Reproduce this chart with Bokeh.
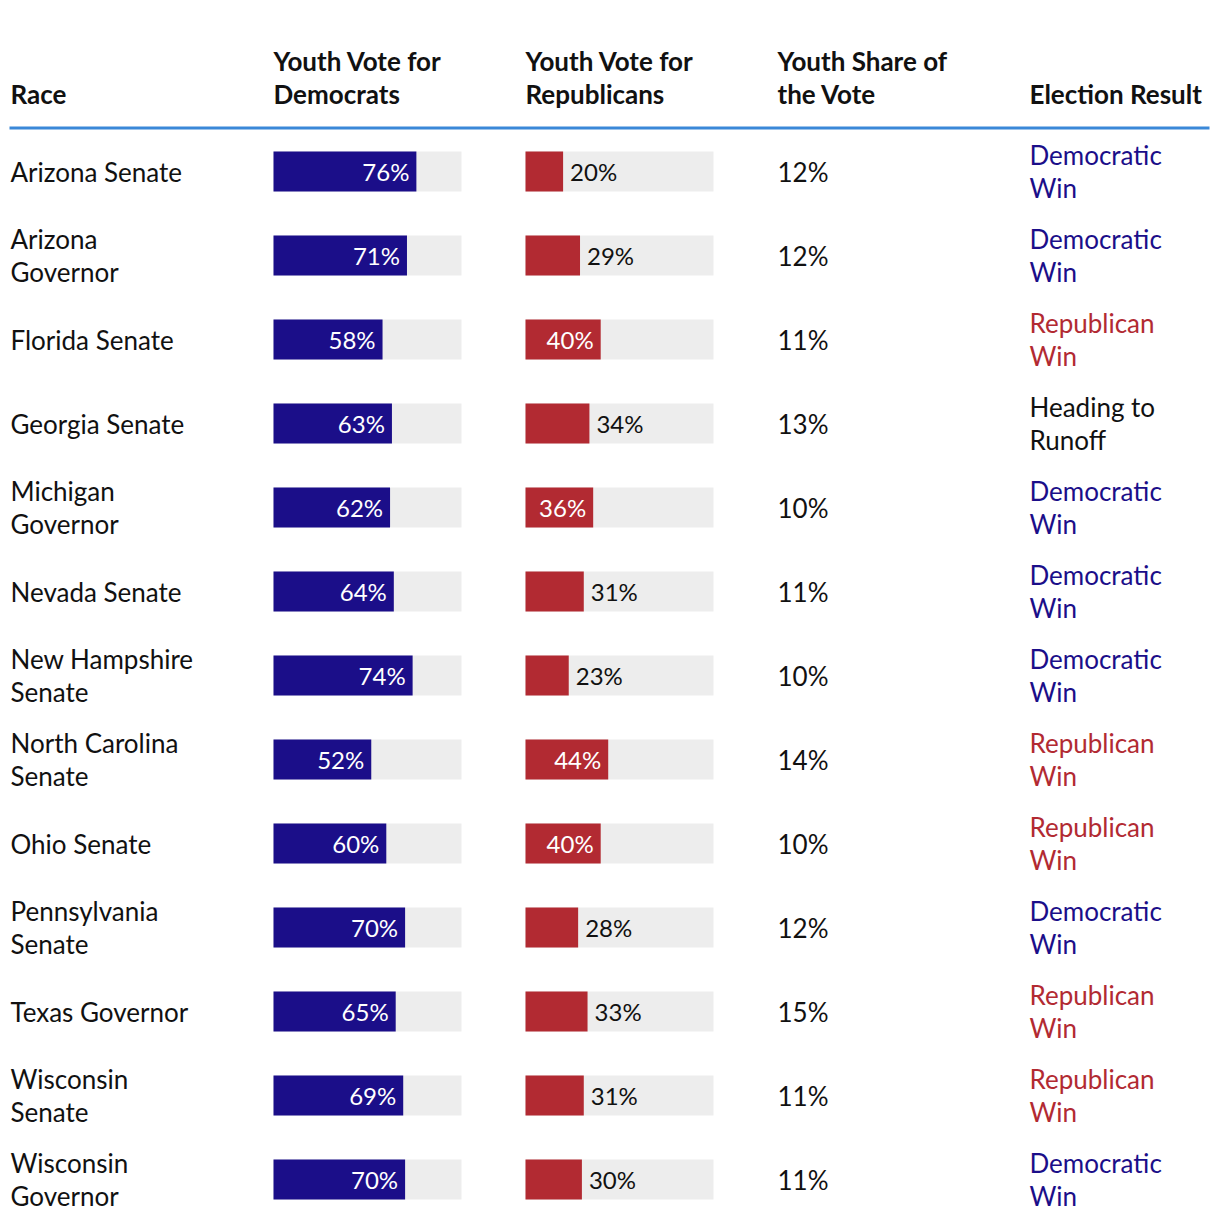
from bokeh.plotting import figure
from bokeh.models import Range1d, ColumnDataSource
from bokeh.core.properties import value
from bokeh.embed import file_html
from bokeh.resources import INLINE

# ---- data ----
races = ["Arizona Senate", "Arizona\nGovernor", "Florida Senate", "Georgia Senate",
         "Michigan\nGovernor", "Nevada Senate", "New Hampshire\nSenate",
         "North Carolina\nSenate", "Ohio Senate", "Pennsylvania\nSenate",
         "Texas Governor", "Wisconsin\nSenate", "Wisconsin\nGovernor"]
dem_pct = [76, 71, 58, 63, 62, 64, 74, 52, 60, 70, 65, 69, 70]
rep_pct = [20, 29, 40, 34, 36, 31, 23, 44, 40, 28, 33, 31, 30]
youth_share = [12, 12, 11, 13, 10, 11, 10, 14, 10, 12, 15, 11, 11]
results = ["Democratic\nWin", "Democratic\nWin", "Republican\nWin", "Heading to\nRunoff",
           "Democratic\nWin", "Democratic\nWin", "Democratic\nWin", "Republican\nWin",
           "Republican\nWin", "Democratic\nWin", "Republican\nWin", "Republican\nWin",
           "Democratic\nWin"]
headers = ["Race", "Youth Vote for\nDemocrats", "Youth Vote for\nRepublicans",
           "Youth Share of\nthe Vote", "Election Result"]

# ---- style / layout ----
FONT = "Lato"
DEM = "#1b0e89"
REP = "#b22a32"
BG = "#ededed"
RULE = "#3a88d8"
INK = "#111111"
W, H = 1212, 1224
col_x = [11, 274, 526, 778, 1030]
bar_w = 188
bar_h = 40
row0 = 172
pitch = 84
label_pad = 7
FS = "26px"
LH = 1.03

p = figure(width=W, height=H, output_backend="svg", toolbar_location=None,
           x_range=Range1d(1, W + 1), y_range=Range1d(H + 1, 1),
           min_border=0)
p.axis.visible = False
p.grid.visible = False
p.outline_line_color = None
p.background_fill_color = "white"

n = len(races)
ys = [row0 + pitch * i for i in range(n)]

# headers
hy = [94 - 16 * h.count("\n") for h in headers]
p.text(x=col_x, y=hy, text=headers,
       text_font=value(FONT), text_font_style="bold", text_font_size=FS,
       text_color=INK, text_baseline="middle", text_align="left",
       text_line_height=LH)
# rule
p.segment(x0=[10], y0=[128.5], x1=[1210], y1=[128.5], line_color=RULE, line_width=3)

# race labels
p.text(x=[col_x[0]] * n, y=ys, text=races, text_font=value(FONT),
       text_font_size=FS, text_color=INK, text_baseline="middle",
       text_align="left", text_line_height=LH)

def bars(x0, vals, color):
    right = [x0 + v / 100 * bar_w for v in vals]
    p.hbar(y=ys, left=[x0] * n, right=[x0 + bar_w] * n, height=bar_h,
           fill_color=BG, line_color=None)
    p.hbar(y=ys, left=[x0] * n, right=right, height=bar_h,
           fill_color=color, line_color=None)
    inside = [v >= 35 for v in vals]
    labels = [f"{v}%" for v in vals]
    ix = [r - label_pad for r, ins in zip(right, inside) if ins]
    iy = [y for y, ins in zip(ys, inside) if ins]
    it = [t for t, ins in zip(labels, inside) if ins]
    ox = [r + label_pad for r, ins in zip(right, inside) if not ins]
    oy = [y for y, ins in zip(ys, inside) if not ins]
    ot = [t for t, ins in zip(labels, inside) if not ins]
    if it:
        p.text(x=ix, y=iy, text=it, text_font=value(FONT), text_font_size="24px",
               text_color="white", text_align="right", text_baseline="middle")
    if ot:
        p.text(x=ox, y=oy, text=ot, text_font=value(FONT), text_font_size="24px",
               text_color=INK, text_align="left", text_baseline="middle")

bars(col_x[1], dem_pct, DEM)
bars(col_x[2], rep_pct, REP)

# youth share
p.text(x=[col_x[3]] * n, y=ys, text=[f"{v}%" for v in youth_share],
       text_font=value(FONT), text_font_size=FS, text_color=INK,
       text_baseline="middle", text_align="left")

# results
rcolors = [DEM if r.startswith("Dem") else REP if r.startswith("Rep") else INK for r in results]
src = ColumnDataSource(dict(x=[col_x[4]] * n, y=ys, t=results, c=rcolors))
p.text(x="x", y="y", text="t", text_color="c", source=src, text_font=value(FONT),
       text_font_size=FS, text_baseline="middle", text_align="left",
       text_line_height=LH)

open("out.html", "w").write(file_html(p, INLINE))
